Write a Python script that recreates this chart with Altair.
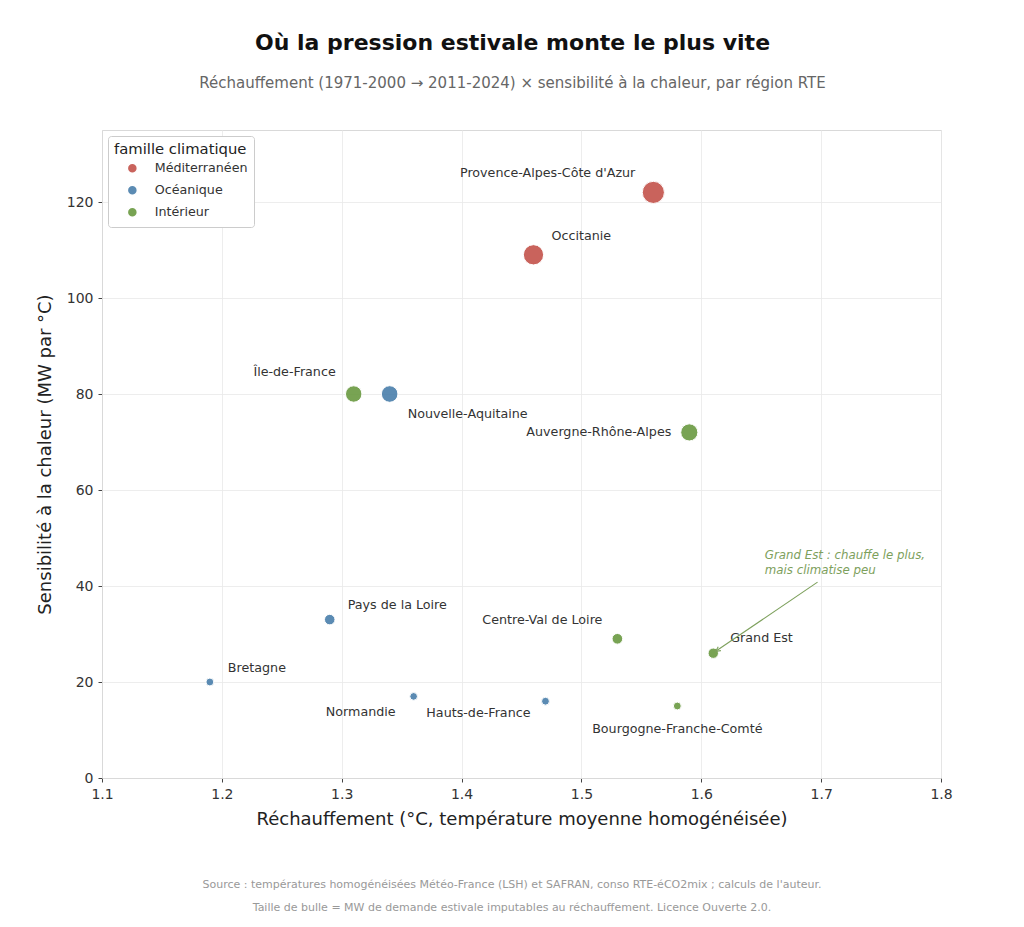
import altair as alt
import pandas as pd

regions = ["Provence-Alpes-Côte d'Azur", "Occitanie", "Île-de-France", "Nouvelle-Aquitaine",
           "Auvergne-Rhône-Alpes", "Pays de la Loire", "Bretagne", "Normandie",
           "Hauts-de-France", "Centre-Val de Loire", "Grand Est", "Bourgogne-Franche-Comté"]
familles = ["Méditerranéen", "Méditerranéen", "Intérieur", "Océanique",
            "Intérieur", "Océanique", "Océanique", "Océanique",
            "Océanique", "Intérieur", "Intérieur", "Intérieur"]
rechauffement = [1.56, 1.46, 1.31, 1.34, 1.59, 1.29, 1.19, 1.36, 1.47, 1.53, 1.61, 1.58]
sensibilite = [122, 109, 80, 80, 72, 33, 20, 17, 16, 29, 26, 15]
mw_demande = [190, 159, 105, 107, 114, 43, 24, 23, 24, 44, 42, 24]

famille_order = ["Méditerranéen", "Océanique", "Intérieur"]
famille_colors = ["#c4534b", "#4a7fab", "#6a9a41"]

annot_text = ["Grand Est : chauffe le plus,", "mais climatise peu"]
annot_x = 1.653
annot_y = [46.4, 43.4]
arrow_from = (1.697, 40.8)
arrow_to = (1.612, 26.4)

footnotes = ["Source : températures homogénéisées Météo-France (LSH) et SAFRAN, conso RTE-éCO2mix ; calculs de l'auteur.",
             "Taille de bulle = MW de demande estivale imputables au réchauffement. Licence Ouverte 2.0."]

FONT = "DejaVu Sans"
GREEN_NOTE = "#7da05c"

df = pd.DataFrame({"region": regions, "famille": familles, "x": rechauffement,
                   "y": sensibilite, "mw": mw_demande})

xscale = alt.Scale(domain=[1.1, 1.8], nice=False, zero=False)
yscale = alt.Scale(domain=[0, 135], nice=False, zero=True)

base = alt.Chart(df)

points = base.mark_circle(opacity=0.9, stroke="white", strokeWidth=1).encode(
    x=alt.X("x:Q", scale=xscale,
            axis=alt.Axis(title="Réchauffement (°C, température moyenne homogénéisée)",
                          values=[1.1, 1.2, 1.3, 1.4, 1.5, 1.6, 1.7, 1.8], format=".1f")),
    y=alt.Y("y:Q", scale=yscale,
            axis=alt.Axis(title="Sensibilité à la chaleur (MW par °C)",
                          values=[0, 20, 40, 60, 80, 100, 120])),
    color=alt.Color("famille:N", scale=alt.Scale(domain=famille_order, range=famille_colors),
                    legend=alt.Legend(title="famille climatique", orient="top-left")),
    size=alt.Size("mw:Q", scale=alt.Scale(domain=[0, 190], range=[0, 490], zero=True), legend=None),
)


def label(name, align, dx, dy):
    return base.transform_filter(alt.datum.region == name).mark_text(
        align=align, baseline="middle", dx=dx, dy=dy, fontSize=12.7, font=FONT, color="#333333"
    ).encode(x=alt.X("x:Q", scale=xscale), y=alt.Y("y:Q", scale=yscale), text="region:N")


labels = [
    label("Provence-Alpes-Côte d'Azur", "right", -18, -19),
    label("Occitanie", "left", 18, -19),
    label("Île-de-France", "right", -18, -22),
    label("Nouvelle-Aquitaine", "left", 18, 20),
    label("Auvergne-Rhône-Alpes", "right", -18, 0),
    label("Pays de la Loire", "left", 18, -15),
    label("Bretagne", "left", 18, -14),
    label("Normandie", "right", -18, 16),
    label("Hauts-de-France", "right", -15, 12),
    label("Centre-Val de Loire", "right", -15, -19),
    label("Grand Est", "left", 17, -15),
    label("Bourgogne-Franche-Comté", "center", 0, 23),
]

annot_df = pd.DataFrame({"x": [annot_x, annot_x], "y": annot_y, "t": annot_text})
annot = alt.Chart(annot_df).mark_text(
    align="left", baseline="middle", fontSize=11.8, fontStyle="italic", font=FONT, color=GREEN_NOTE
).encode(x=alt.X("x:Q", scale=xscale), y=alt.Y("y:Q", scale=yscale), text="t:N")

arrow_df = pd.DataFrame({"x": [arrow_from[0], arrow_to[0]], "y": [arrow_from[1], arrow_to[1]], "o": [0, 1]})
arrow_line = alt.Chart(arrow_df).mark_line(color=GREEN_NOTE, strokeWidth=1.1).encode(
    x=alt.X("x:Q", scale=xscale), y=alt.Y("y:Q", scale=yscale), order="o:O")
head_df = pd.DataFrame({"x": [arrow_to[0]], "y": [arrow_to[1]]})
arrow_head = alt.Chart(head_df).mark_point(
    shape="M-0.45,0.9L0,0L0.45,0.9", filled=False, color=GREEN_NOTE, strokeWidth=1.1,
    size=110, angle=236, opacity=1
).encode(x=alt.X("x:Q", scale=xscale), y=alt.Y("y:Q", scale=yscale))


def footnote(i, ypix):
    fd = pd.DataFrame({"t": [footnotes[i]]})
    return alt.Chart(fd).mark_text(
        fontSize=11, font=FONT, color="#999999", align="center", baseline="middle"
    ).encode(x=alt.value(410), y=alt.value(ypix), text="t:N")


chart = alt.layer(points, *labels, arrow_line, arrow_head, annot,
                  footnote(0, 755), footnote(1, 778)).properties(
    width=839, height=648,
    title=alt.TitleParams(
        text="Où la pression estivale monte le plus vite",
        subtitle="Réchauffement (1971-2000 → 2011-2024) × sensibilité à la chaleur, par région RTE",
        fontSize=22, fontWeight="bold", font=FONT, color="#111111",
        subtitleFontSize=15, subtitleFont=FONT, subtitleColor="#666666",
        subtitlePadding=21, anchor="middle", offset=38, dx=-9,
    ),
    autosize=alt.AutoSizeParams(type="none"),
    padding={"left": 102, "top": 130, "right": 83, "bottom": 149},
).configure_view(stroke="#d9d9d9", strokeWidth=1).configure_axis(
    labelFont=FONT, titleFont=FONT, labelFontSize=14, titleFontSize=18,
    labelColor="#333333", titleColor="#222222", titleFontWeight="normal",
    gridColor="#e8e8e8", gridWidth=0.8, domainColor="#d9d9d9", tickColor="#444444",
    tickSize=4, labelPadding=5, labelFlush=False,
).configure_axisX(titlePadding=9).configure_axisY(titlePadding=12).configure_legend(
    labelFont=FONT, titleFont=FONT, labelFontSize=12.7, titleFontSize=14.8,
    titleFontWeight="normal", titleColor="#222222", labelColor="#333333",
    fillColor="white", strokeColor="#cccccc", cornerRadius=3, padding=6,
    symbolSize=100, symbolType="circle", rowPadding=5, offset=6, symbolOpacity=0.9,
    symbolOffset=12, labelOffset=16, titlePadding=5,
)

chart.save("out.html", embed_options={"renderer": "svg", "actions": False})
